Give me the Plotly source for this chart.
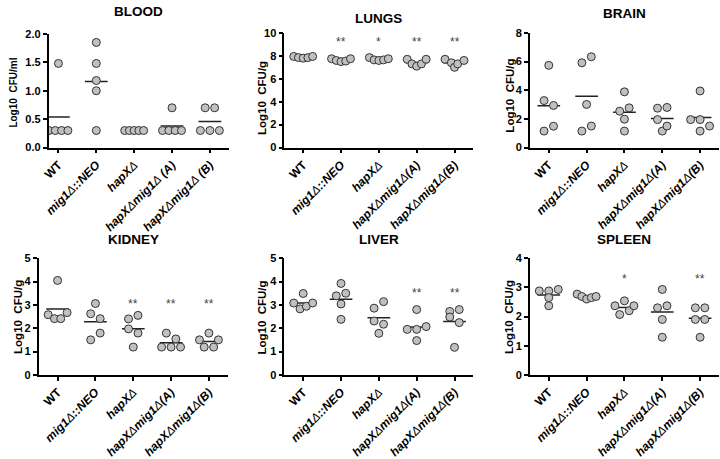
import plotly.graph_objects as go

# ---------------- data ----------------
categories = ["WT", "mig1Δ::NEO", "hapXΔ", "hapXΔmig1Δ(A)", "hapXΔmig1Δ(B)"]
categories_blood = ["WT", "mig1Δ::NEO", "hapXΔ", "hapXΔmig1Δ (A)", "hapXΔmig1Δ (B)"]

blood_wt = [1.48, 0.3, 0.3, 0.3, 0.3]
blood_mig1 = [1.85, 1.48, 1.18, 1.0, 0.3]
blood_hapx = [0.3, 0.3, 0.3, 0.3, 0.3]
blood_a = [0.7, 0.3, 0.3, 0.3, 0.3]
blood_b = [0.7, 0.7, 0.3, 0.3, 0.3]

lungs_wt = [7.95, 7.85, 7.8, 7.85, 7.95]
lungs_mig1 = [7.75, 7.6, 7.5, 7.55, 7.75]
lungs_hapx = [7.85, 7.65, 7.6, 7.65, 7.75]
lungs_a = [7.7, 7.3, 7.1, 7.3, 7.7]
lungs_b = [7.7, 7.4, 7.0, 7.3, 7.6]

brain_wt = [5.74, 3.28, 2.94, 1.15, 1.49]
brain_mig1 = [5.92, 6.34, 3.01, 1.15, 1.5]
brain_hapx = [3.89, 2.54, 2.77, 1.98, 1.15]
brain_a = [2.75, 2.8, 1.95, 1.15, 1.5]
brain_b = [3.95, 1.95, 1.95, 1.15, 1.5]

kidney_wt = [2.58, 2.41, 4.05, 2.41, 2.67]
kidney_mig1 = [2.62, 1.5, 3.06, 2.41, 1.79]
kidney_hapx = [2.4, 1.97, 2.55, 1.79, 1.19]
kidney_a = [1.19, 1.19, 1.79, 1.19, 1.54]
kidney_b = [1.5, 1.19, 1.79, 1.19, 1.5]

liver_wt = [3.08, 2.83, 3.49, 2.94, 3.08]
liver_mig1 = [3.39, 3.92, 3.5, 3.04, 2.38]
liver_hapx = [2.86, 2.31, 1.78, 2.17, 3.14]
liver_a = [1.95, 2.8, 1.95, 1.47, 2.07]
liver_b = [2.72, 2.48, 1.18, 2.8, 2.24]

spleen_wt = [2.88, 2.37, 2.88, 2.65, 2.93]
spleen_mig1 = [2.77, 2.69, 2.6, 2.65, 2.69]
spleen_hapx = [2.37, 2.07, 2.54, 2.2, 2.37]
spleen_a = [2.3, 2.93, 1.9, 1.29, 2.37]
spleen_b = [2.3, 1.9, 1.29, 2.3, 1.9]

sig_none = ["", "", "", "", ""]
sig_lungs = ["", "**", "*", "**", "**"]
sig_kidney = ["", "", "**", "**", "**"]
sig_liver = ["", "", "", "**", "**"]
sig_spleen = ["", "", "*", "", "**"]

panel_titles = ["BLOOD", "LUNGS", "BRAIN", "KIDNEY", "LIVER", "SPLEEN"]
y_titles = ["Log10\u00a0 CFU/ml", "Log10\u00a0 CFU/g", "Log10\u00a0 CFU/g",
            "Log10\u00a0 CFU/g", "Log10\u00a0 CFU/g", "Log10\u00a0 CFU/g"]
y_ticks_blood = ["0.0", "0.5", "1.0", "1.5", "2.0"]
y_ticks_lungs = ["0", "2", "4", "6", "8", "10"]
y_ticks_brain = ["0", "2", "4", "6", "8"]
y_ticks_kidney = ["0", "1", "2", "3", "4", "5"]
y_ticks_liver = ["0", "1", "2", "3", "4", "5"]
y_ticks_spleen = ["0", "1", "2", "3", "4"]
y_tick_sets = [y_ticks_blood, y_ticks_lungs, y_ticks_brain,
               y_ticks_kidney, y_ticks_liver, y_ticks_spleen]
star_level = [None, 9.45, None, 3.15, 3.65, 3.4]

panels = [
    ([blood_wt, blood_mig1, blood_hapx, blood_a, blood_b], sig_none, categories_blood),
    ([lungs_wt, lungs_mig1, lungs_hapx, lungs_a, lungs_b], sig_lungs, categories),
    ([brain_wt, brain_mig1, brain_hapx, brain_a, brain_b], sig_none, categories),
    ([kidney_wt, kidney_mig1, kidney_hapx, kidney_a, kidney_b], sig_kidney, categories),
    ([liver_wt, liver_mig1, liver_hapx, liver_a, liver_b], sig_liver, categories),
    ([spleen_wt, spleen_mig1, spleen_hapx, spleen_a, spleen_b], sig_spleen, categories),
]

# ---------------- layout geometry (pixels) ----------------
W, H = 720, 459
boxes = [
    (42, 224, 29, 147),
    (280, 471, 28, 147),
    (528, 719, 28, 147),
    (32, 223, 262, 383),
    (280, 471, 262, 383),
    (528, 719, 262, 383),
]
x_ranges = [[-0.26, 4.5], [-0.5, 4.5], [-0.5, 4.5], [-0.5, 4.5], [-0.5, 4.5], [-0.5, 4.5]]
ytitle_pos = [(7, 90), (258, 95), (507, 93), (11, 323), (258, 323), (507, 323)]
ytitle_size = [10, 11.5, 11.5, 11.5, 11.5, 11.5]
title_y = [6, 13, 8, 242, 242, 242]

FONT = "Arial, Liberation Sans, sans-serif"
MARKER_PX = 8
FILL = "#c0c0c0"
EDGE = "#333333"


def fmt_label(s):
    if s == "WT":
        return "<b>WT</b>"
    parts = s.split("Δ")
    out = ""
    for k, p in enumerate(parts):
        if p:
            out += "<b><i>" + p + "</i></b>"
        if k < len(parts) - 1:
            out += "<i>Δ</i>"
    return out


def swarm(vals, d_units, spacing=0.25, max_ext=0.5):
    n = len(vals)
    order = sorted(range(n), key=lambda i: -vals[i])
    rows = []
    for i in order:
        if rows and vals[rows[-1][0]] - vals[i] < 0.9 * d_units:
            rows[-1].append(i)
        else:
            rows.append([i])
    offs = [0.0] * n
    for row in rows:
        row = sorted(row)
        m = len(row)
        s = min(spacing, max_ext / (m - 1)) if m > 1 else 0
        for k, i in enumerate(row):
            offs[i] = (k - (m - 1) / 2) * s
    return offs


fig = go.Figure()
annotations = []
layout = {}

for p, (groups, sigs, cats) in enumerate(panels):
    xl, xr, yt, yb = boxes[p]
    sfx = "" if p == 0 else str(p + 1)
    xa, ya = "x" + sfx, "y" + sfx
    ticks = y_tick_sets[p]
    ymax = float(ticks[-1])
    px_per_unit = (yb - yt) / ymax
    d_units = MARKER_PX / px_per_unit

    xs, ys, lx, ly = [], [], [], []
    for gi, vals in enumerate(groups):
        offs = swarm(vals, d_units)
        xs += [gi + o for o in offs]
        ys += vals
        mean = sum(vals) / len(vals)
        lx += [gi - 0.3, gi + 0.3, None]
        ly += [mean, mean, None]

    fig.add_trace(go.Scatter(x=lx, y=ly, mode="lines", xaxis=xa, yaxis=ya,
                             line=dict(color="#222222", width=1.5),
                             hoverinfo="skip", showlegend=False))
    fig.add_trace(go.Scatter(x=xs, y=ys, mode="markers", xaxis=xa, yaxis=ya,
                             marker=dict(size=MARKER_PX, color=FILL,
                                         line=dict(color=EDGE, width=1)),
                             showlegend=False))

    layout["xaxis" + sfx] = dict(
        domain=[xl / W, xr / W], anchor=ya, range=x_ranges[p],
        tickmode="array", tickvals=list(range(len(cats))),
        ticktext=[fmt_label(c) for c in cats], tickangle=-45,
        showline=True, linecolor="black", linewidth=1.5,
        ticks="outside", ticklen=4, tickwidth=1.5, tickcolor="black",
        showgrid=False, zeroline=False, fixedrange=True,
        tickfont=dict(family=FONT, size=12, color="black"),
    )
    layout["yaxis" + sfx] = dict(
        domain=[1 - yb / H, 1 - yt / H], anchor=xa, range=[0, ymax],
        tickmode="array", tickvals=[float(t) for t in ticks],
        ticktext=["<b>" + t + "</b>" for t in ticks],
        showline=True, linecolor="black", linewidth=1.5,
        ticks="outside", ticklen=4, tickwidth=1.5, tickcolor="black",
        showgrid=False, zeroline=False, fixedrange=True,
        tickfont=dict(family=FONT, size=11, color="black"),
    )

    annotations.append(dict(text="<b>" + panel_titles[p] + "</b>", xref="paper", yref="paper",
                            x=(xl + xr) / 2 / W, y=1 - title_y[p] / H, showarrow=False,
                            xanchor="center", yanchor="middle",
                            font=dict(family=FONT, size=13.5, color="black")))
    tx, ty = ytitle_pos[p]
    annotations.append(dict(text="<b>" + y_titles[p] + "</b>", xref="paper", yref="paper",
                            x=tx / W, y=1 - ty / H, showarrow=False, textangle=-90,
                            xanchor="center", yanchor="middle",
                            font=dict(family=FONT, size=ytitle_size[p], color="black")))
    if star_level[p] is not None:
        for gi, s in enumerate(sigs):
            if s:
                annotations.append(dict(text=s, xref=xa, yref=ya, x=gi, y=star_level[p],
                                        showarrow=False, xanchor="center", yanchor="middle",
                                        yshift=-3,
                                        font=dict(family=FONT, size=12, color="#444444")))

fig.update_layout(
    width=W, height=H, margin=dict(l=0, r=0, t=0, b=0),
    paper_bgcolor="white", plot_bgcolor="white",
    showlegend=False, annotations=annotations, **layout,
)

fig.write_html("out.html", config={"displayModeBar": False},
               post_script="document.body.style.margin='0';")
